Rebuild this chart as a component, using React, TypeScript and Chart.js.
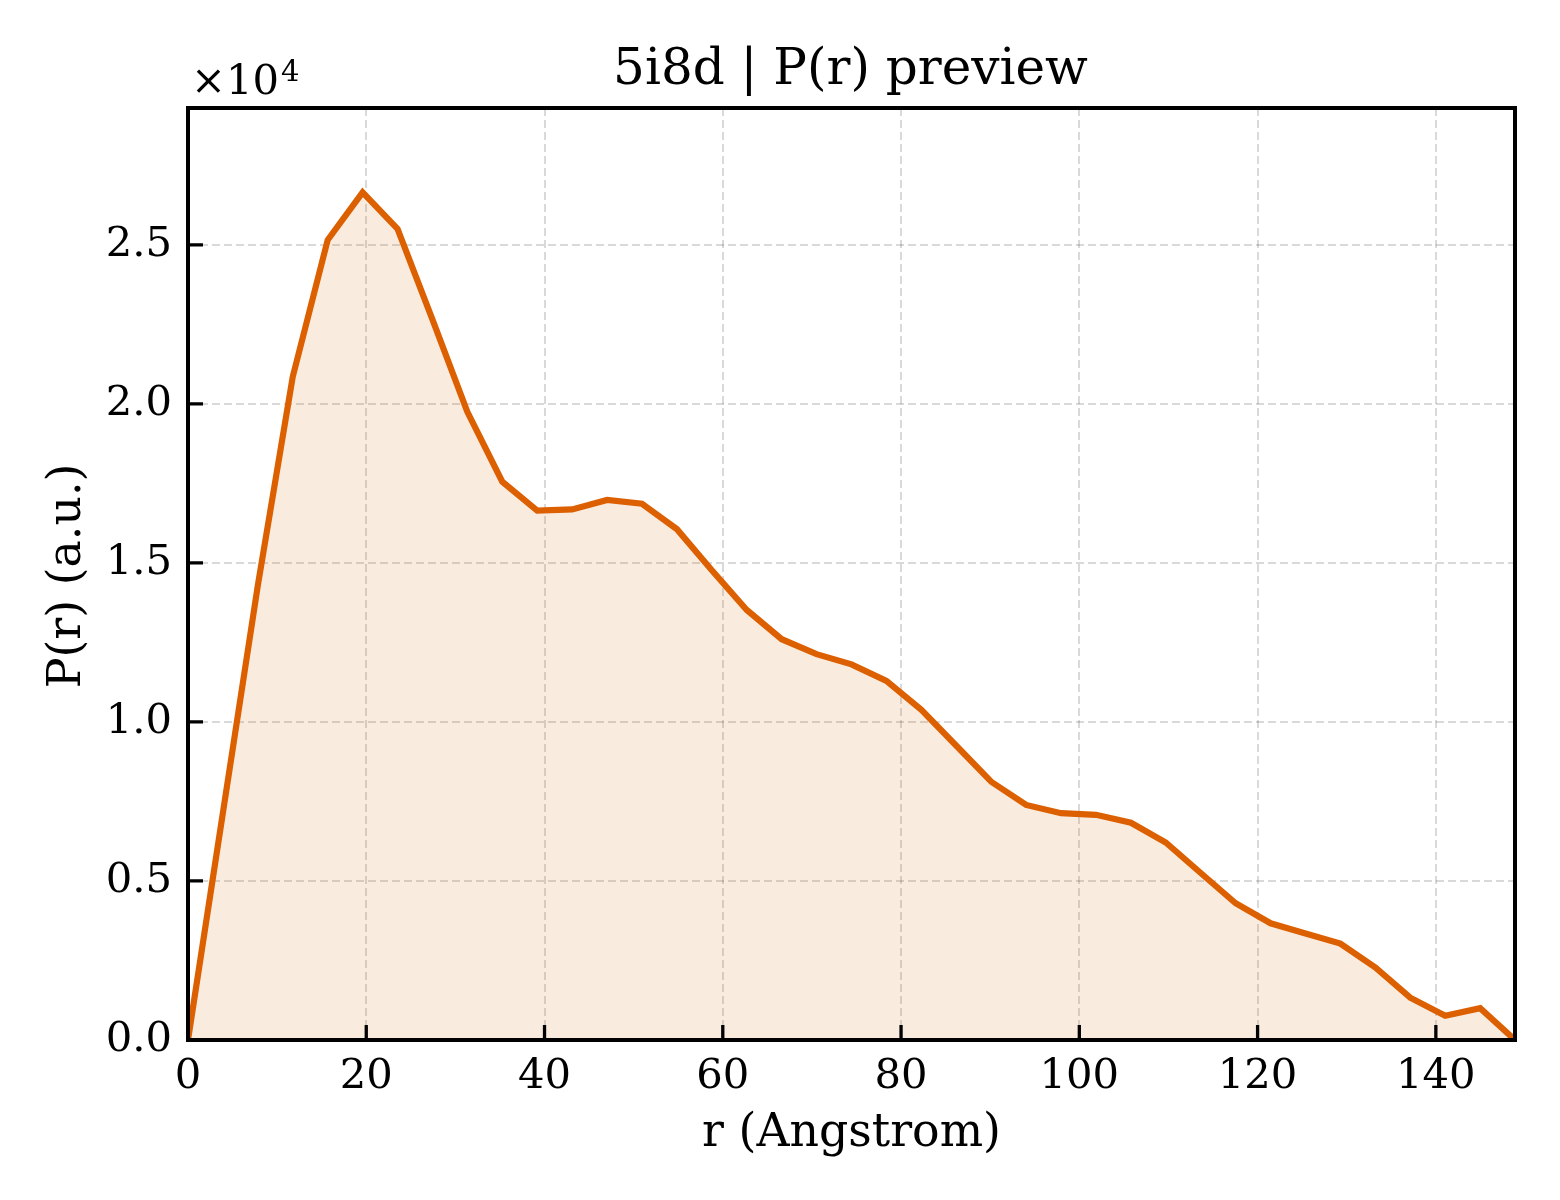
import { useEffect, useRef } from "react";
import { Chart, registerables } from "chart.js";

Chart.register(...registerables);

// P(r) curve
const rValues = [
  0, 3.92, 7.84, 11.75, 15.67, 19.59, 23.51, 27.43, 31.34, 35.26, 39.18, 43.1,
  47.02, 50.93, 54.85, 58.77, 62.69, 66.61, 70.52, 74.44, 78.36, 82.28, 86.2,
  90.11, 94.03, 97.95, 101.87, 105.79, 109.7, 113.62, 117.54, 121.46, 125.38,
  129.29, 133.21, 137.13, 141.05, 144.97, 148.88,
];
const prValues = [
  0, 7150, 14300, 20850, 25150, 26650, 25500, 22650, 19750, 17550, 16640,
  16680, 16980, 16860, 16060, 14770, 13520, 12600, 12130, 11810, 11290, 10380,
  9250, 8120, 7390, 7130, 7080, 6830, 6210, 5250, 4300, 3670, 3350, 3030, 2280,
  1330, 760, 1000, 0,
];
const xTicks = [0, 20, 40, 60, 80, 100, 120, 140];
const yTicks = [0, 5000, 10000, 15000, 20000, 25000];
const xMax = 148.88;
const yMax = 29300;

const FONT = "'DejaVu Serif', serif";
const LINE = "#dc5f00";

const frame = {
  id: "frame",
  afterDraw(chart: any) {
    const { ctx, chartArea: a, scales } = chart;
    ctx.save();
    ctx.strokeStyle = "#000";
    // inward ticks
    ctx.lineWidth = 3.3;
    ctx.beginPath();
    xTicks.forEach((v) => {
      const x = scales.x.getPixelForValue(v);
      ctx.moveTo(x, a.bottom);
      ctx.lineTo(x, a.bottom - 15);
    });
    yTicks.forEach((v) => {
      const y = scales.y.getPixelForValue(v);
      ctx.moveTo(a.left, y);
      ctx.lineTo(a.left + 15, y);
    });
    ctx.stroke();
    // spines
    ctx.lineWidth = 4;
    ctx.strokeRect(a.left, a.top, a.right - a.left, a.bottom - a.top);

    const cx = (a.left + a.right) / 2;
    ctx.fillStyle = "#000";
    ctx.textAlign = "center";
    ctx.textBaseline = "alphabetic";
    ctx.font = `50px ${FONT}`;
    ctx.fillText("5i8d | P(r) preview", cx - 1, 84);
    ctx.font = `45.8px ${FONT}`;
    ctx.fillText("r (Angstrom)", cx, 1146);
    ctx.save();
    ctx.translate(80, (a.top + a.bottom) / 2 + 2);
    ctx.rotate(-Math.PI / 2);
    ctx.fillText("P(r) (a.u.)", 0, 0);
    ctx.restore();

    // offset text
    ctx.textAlign = "left";
    ctx.font = `41.7px ${FONT}`;
    ctx.fillText("×10", 191, 94);
    const w = ctx.measureText("×10").width;
    ctx.font = `29px ${FONT}`;
    ctx.fillText("4", 191 + w + 2, 81);
    ctx.restore();
  },
};

export default function App() {
  const canvasRef = useRef<HTMLCanvasElement | null>(null);

  useEffect(() => {
    if (!canvasRef.current) return;
    Chart.defaults.font.family = FONT;

    const chart = new Chart(canvasRef.current, {
      type: "line",
      data: {
        datasets: [
          {
            data: rValues.map((r, i) => ({ x: r, y: prValues[i] })),
            borderColor: LINE,
            borderWidth: 6.2,
            backgroundColor: "rgba(217, 95, 2, 0.125)",
            fill: "origin",
            pointRadius: 0,
            tension: 0,
          },
        ],
      },
      options: {
        animation: false,
        responsive: true,
        maintainAspectRatio: false,
        devicePixelRatio: 1,
        layout: { padding: { top: 108, right: 45, left: 0, bottom: 0 } },
        plugins: {
          legend: { display: false },
          tooltip: { enabled: false },
          title: { display: false },
        },
        scales: {
          x: {
            type: "linear",
            min: 0,
            max: xMax,
            afterBuildTicks: (s: any) => {
              s.ticks = xTicks.map((v) => ({ value: v }));
            },
            afterFit: (s: any) => {
              s.height = 160;
            },
            ticks: {
              padding: 12,
              maxRotation: 0,
              autoSkip: false,
              color: "#000",
              font: { size: 41.7 },
            },
            grid: {
              color: "rgba(0,0,0,0.15)",
              lineWidth: 2,
              drawTicks: false,
            },
            border: { display: false, dash: [8, 4] },
          },
          y: {
            type: "linear",
            min: 0,
            max: yMax,
            afterBuildTicks: (s: any) => {
              s.ticks = yTicks.map((v) => ({ value: v }));
            },
            afterFit: (s: any) => {
              s.width = 188;
            },
            ticks: {
              padding: 16,
              autoSkip: false,
              color: "#000",
              font: { size: 41.7 },
              callback: (v: any) => (Number(v) / 1e4).toFixed(1),
            },
            grid: {
              color: "rgba(0,0,0,0.15)",
              lineWidth: 2,
              drawTicks: false,
            },
            border: { display: false, dash: [8, 4] },
          },
        },
      },
      plugins: [frame],
    });

    return () => chart.destroy();
  }, []);

  return (
    <div
      style={{
        position: "absolute",
        left: 0,
        top: 0,
        width: 1560,
        height: 1200,
        background: "#fff",
      }}
    >
      <canvas ref={canvasRef}></canvas>
    </div>
  );
}
